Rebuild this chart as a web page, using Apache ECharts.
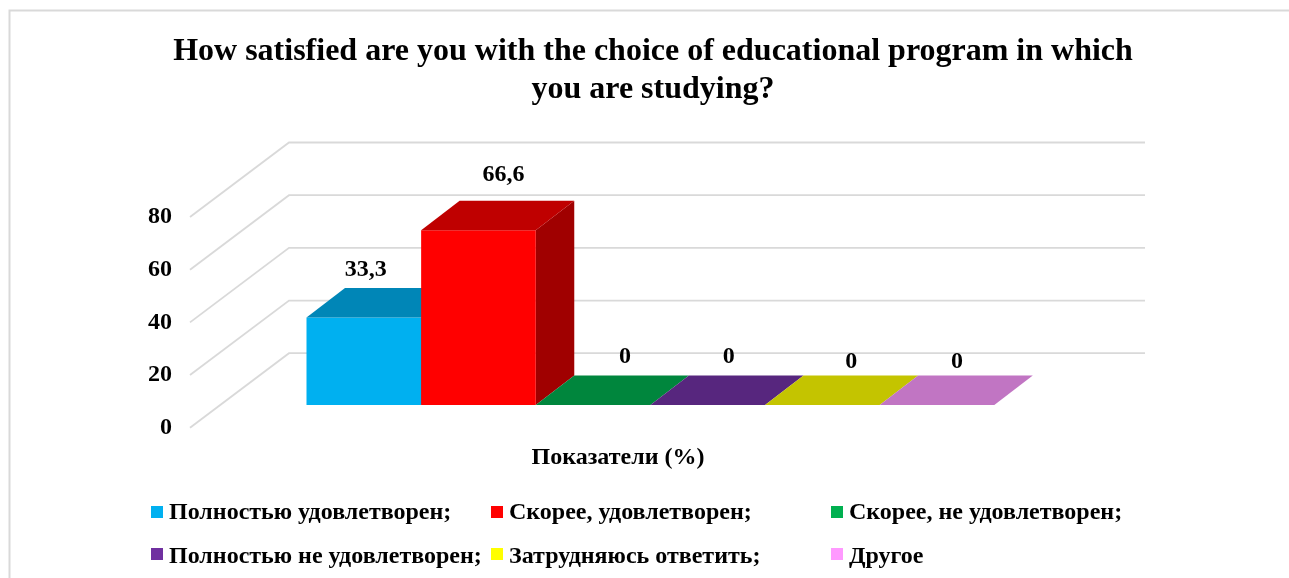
<!DOCTYPE html>
<html>
<head>
<meta charset="utf-8">
<style>html,body{margin:0;padding:0;background:#fff}#c{width:1289px;height:578px}</style>
<script src="https://cdn.jsdelivr.net/npm/echarts@6/dist/echarts.min.js"></script>
</head>
<body>
<div id="c"></div>
<script>
const titleText = 'How satisfied are you with the choice of educational program in which\nyou are studying?';
const axisTitle = 'Показатели (%)';
const categories = ['Полностью удовлетворен;','Скорее, удовлетворен;','Скорее, не удовлетворен;','Полностью не удовлетворен;','Затрудняюсь ответить;','Другое'];
const values = [33.3, 66.6, 0, 0, 0, 0];
const valueTicks = [0, 20, 40, 60, 80];
const colors = ['#00B0F0','#FF0000','#00B050','#7030A0','#FFFF00','#FF99FF'];
const topColors = ['#0086B7','#BF0000','#00863D','#57267E','#C4C400','#C175C3'];
const sideColors = ['#006C92','#A00000','#006C31','#461E62','#9E9E00','#9C5E9C'];

const FONT = '"Liberation Serif"';
const barDepth = [38.5, -29.5];
const wallDepth = [99, -74.5];
const labelOffsets = [[2,-48],[25,-55],[32,-48],[21,-48],[29,-43],[20,-43]];
const legendSpots = [[151,499],[491,499],[831,499],[151,539],[491,539],[831,539]];
const legendSpacer = [2,2,2,6,6,6];

function fmt(v){ return String(v).replace('.', ','); }

function barRender(i){
  return function(params, api){
    const cat = api.value(0), val = api.value(1);
    const band = api.size([1,0])[0];
    const base = api.coord([cat,0]), top = api.coord([cat,val]);
    const l = base[0]-band/2, r = base[0]+band/2, yb = base[1], yt = top[1];
    const [dx,dy] = barDepth;
    const children = [];
    if (yb-yt > 0.5) {
      children.push({type:'polygon',shape:{points:[[r,yt],[r+dx,yt+dy],[r+dx,yb+dy],[r,yb]]},style:{fill:sideColors[i]}});
      children.push({type:'rect',shape:{x:l,y:yt,width:band,height:yb-yt},style:{fill:colors[i]}});
    }
    children.push({type:'polygon',shape:{points:[[l,yt],[l+dx,yt+dy],[r+dx,yt+dy],[r,yt]]},style:{fill:topColors[i]}});
    children.push({type:'text',style:{text:fmt(val),x:base[0]+labelOffsets[i][0],y:yt+labelOffsets[i][1],
      textAlign:'center',textVerticalAlign:'middle',fill:'#000',font:'bold 24px '+FONT}});
    return {type:'group',children};
  };
}

const barSeries = categories.map((name,i)=>({
  type:'custom', name, xAxisIndex:0, yAxisIndex:0, clip:false, z:5+i,
  itemStyle:{color:colors[i]},
  encode:{x:0,y:1},
  data:[[i,values[i]]],
  renderItem:barRender(i)
}));

const wallSeries = {
  type:'custom', name:'walls', xAxisIndex:1, yAxisIndex:1, clip:false, z:1, silent:true,
  encode:{x:0,y:1},
  data:valueTicks.map(v=>[0,v]),
  renderItem(params, api){
    const v = api.value(1);
    const a = api.coord([0,v]), b = api.coord([1,v]);
    const [dx,dy] = wallDepth;
    return {type:'polyline',shape:{points:[a,[a[0]+dx,a[1]+dy],[b[0]+dx,b[1]+dy]]},
      style:{stroke:'#D9D9D9',lineWidth:1.8,fill:null}};
  }
};

const chart = echarts.init(document.getElementById('c'),null,{renderer:'canvas'});
chart.setOption({
  animation:false,
  backgroundColor:'#fff',
  title:{text:titleText,left:648,top:28,textAlign:'center',
    textStyle:{fontFamily:FONT,fontWeight:'bold',fontSize:32,lineHeight:38,color:'#000'}},
  grid:[
    {left:306.5,top:195,width:687.8,height:210},
    {left:190,top:217,width:856,height:210.7}
  ],
  xAxis:[
    {type:'category',gridIndex:0,data:categories,show:false},
    {type:'value',gridIndex:1,min:0,max:1,name:axisTitle,nameLocation:'middle',nameGap:18,
     nameTextStyle:{fontFamily:FONT,fontWeight:'bold',fontSize:24,color:'#000'},
     axisLine:{show:false},axisTick:{show:false},axisLabel:{show:false},splitLine:{show:false}}
  ],
  yAxis:[
    {type:'value',gridIndex:0,min:0,max:80,show:false},
    {type:'value',gridIndex:1,min:0,max:80,interval:20,
     axisLine:{show:false},axisTick:{show:false},splitLine:{show:false},
     axisLabel:{margin:18,color:'#000',fontFamily:FONT,fontWeight:'bold',fontSize:24}}
  ],
  legend:categories.map((name,i)=>({
    data:[name],left:legendSpots[i][0],top:legendSpots[i][1],padding:0,
    itemWidth:12,itemHeight:12,itemGap:6,icon:'rect',selectedMode:false,
    formatter:n=>'{s| }\n{a|'+n+'}',
    textStyle:{fontFamily:FONT,fontWeight:'bold',fontSize:24,color:'#000',
      rich:{
        s:{height:legendSpacer[i],lineHeight:legendSpacer[i],fontSize:1},
        a:{fontFamily:FONT,fontWeight:'bold',fontSize:24,color:'#000',lineHeight:24,padding:[0,0,0,1]}
      }}
  })),
  graphic:[{type:'polyline',silent:true,shape:{points:[[9.5,578],[9.5,10.5],[1289,10.5]]},
    style:{stroke:'#D9D9D9',lineWidth:2,fill:null}}],
  series:[wallSeries].concat(barSeries)
});
</script>
</body>
</html>
